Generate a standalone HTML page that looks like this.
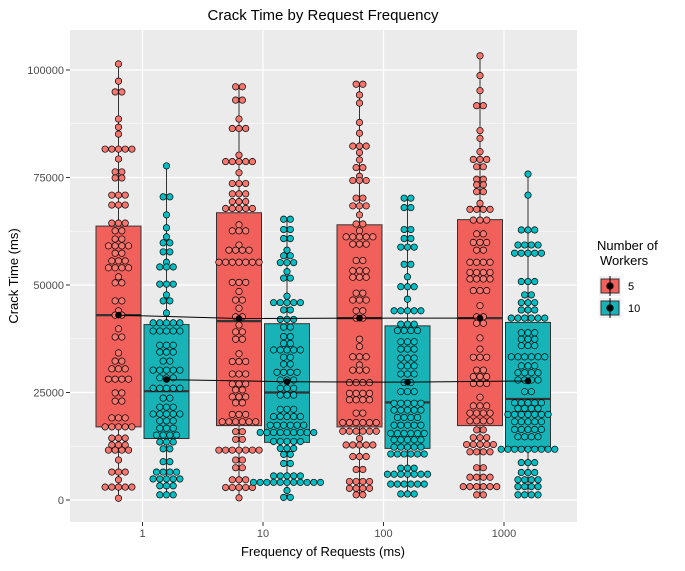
<!DOCTYPE html>
<html><head><meta charset="utf-8"><style>
body{margin:0;background:#fff;font-family:"Liberation Sans",sans-serif}
svg text{font-family:"Liberation Sans",sans-serif}
</style></head><body>
<svg id="chart" width="685" height="566" xmlns="http://www.w3.org/2000/svg"></svg>
<script>
const categories=["1","10","100","1000"];
const groups=["5","10"];
const yTicks=[0,25000,50000,75000,100000];
const yTickLabels=["0","25000","50000","75000","100000"];
const q1_5=[17000,17300,17000,17300], med_5=[43000,41600,42300,42300], q3_5=[63700,66800,64000,65200], lo_5=[400,500,1200,1200], hi_5=[101400,96100,96700,103300];
const q1_10=[14300,13400,12000,12300], med_10=[25300,25000,22700,23500], q3_10=[40800,41000,40500,41300], lo_10=[1200,600,1400,1200], hi_10=[77700,65300,70200,75800];
const mean_5=[43000,42200,42300,42300];
const mean_10=[28000,27500,27400,27700];
// dot rows: [value, count]
const dots_1_5=[[101400,1],[97400,1],[94900,2],[88600,1],[86700,1],[85100,1],[81600,5],[79300,1],[76300,2],[74900,2],[70900,3],[68600,3],[64400,3],[62600,2],[60700,2],[59100,4],[57400,2],[55600,3],[54000,4],[51900,1],[50500,2],[46300,2],[44000,1],[43000,2],[39800,1],[37900,2],[34200,1],[32300,2],[30500,3],[28100,4],[24900,2],[23000,2],[19100,3],[17000,5],[14400,3],[12800,3],[11600,4],[9300,1],[6500,3],[4700,1],[3000,5],[400,1]];
const dots_1_10=[[77700,1],[70500,2],[66300,1],[63300,1],[61200,1],[59800,2],[57700,2],[55300,1],[54200,3],[50200,3],[47700,1],[46300,2],[43500,1],[41200,5],[39300,5],[36000,3],[34400,3],[32300,2],[30200,5],[28400,3],[26000,5],[23700,2],[21600,3],[20000,5],[18400,3],[16700,3],[15100,4],[13500,3],[11900,2],[8900,2],[6500,4],[4900,5],[3300,3],[1200,3]];
const dots_10_5=[[96100,2],[93000,2],[88600,1],[86400,3],[80200,1],[78700,5],[76100,1],[73600,3],[71200,3],[69400,3],[67800,5],[64000,1],[62600,3],[59300,1],[58100,4],[55300,7],[50600,3],[48500,1],[46500,2],[44600,1],[42600,2],[40700,1],[39100,2],[37400,2],[34000,1],[32200,3],[29300,3],[27000,3],[25600,2],[24000,3],[22600,2],[19900,3],[18200,6],[15900,2],[14100,2],[11600,7],[9300,2],[7500,2],[4700,3],[2900,5],[500,1]];
const dots_10_10=[[65300,2],[62900,2],[60800,2],[58100,1],[56800,2],[55200,3],[53100,1],[51600,2],[47400,1],[45900,5],[44200,2],[42000,3],[40200,2],[38000,2],[36400,2],[34900,5],[33200,2],[31600,2],[29700,4],[27900,3],[26000,3],[24400,3],[21100,3],[19400,5],[17400,6],[15700,9],[13600,5],[12000,3],[10600,2],[8500,2],[5600,5],[4100,11],[2200,1],[600,2]];
const dots_100_5=[[96700,2],[94200,1],[92300,1],[87800,1],[85300,1],[82300,3],[80800,1],[79100,1],[77300,2],[75300,1],[74300,3],[70200,2],[68400,3],[66300,1],[64200,2],[62600,1],[61200,5],[59500,3],[55700,2],[53300,3],[51800,3],[48100,2],[46500,3],[44000,2],[42300,2],[37400,1],[35700,1],[33300,3],[31400,1],[30200,3],[27300,4],[24800,4],[23300,4],[20200,2],[18000,6],[16000,6],[14300,1],[12800,5],[10100,3],[7100,2],[4300,4],[2700,4],[1200,2]];
const dots_100_10=[[70200,2],[68000,2],[62900,2],[60800,2],[58800,3],[54800,2],[51900,1],[49600,3],[46700,1],[44000,5],[40900,3],[39400,4],[36800,3],[35100,3],[33000,3],[31200,3],[29300,3],[27300,2],[25200,3],[22500,5],[20900,5],[19200,4],[17400,5],[15500,6],[14000,5],[12300,5],[10700,6],[7400,3],[6000,7],[3700,6],[1400,3]];
const dots_1000_5=[[103300,1],[98700,1],[95200,1],[91700,2],[85900,1],[84100,1],[81000,1],[79200,3],[77500,2],[74600,2],[73300,2],[71700,2],[69000,1],[67600,4],[65100,3],[61900,2],[59900,3],[58100,2],[55300,4],[52900,4],[51400,4],[48700,3],[45200,1],[42600,2],[41100,2],[37700,1],[35100,1],[33200,3],[30200,2],[28700,3],[27100,3],[23900,1],[21900,3],[20200,4],[18400,4],[16300,2],[14500,3],[12900,5],[11200,4],[7500,2],[5300,4],[3100,6],[1200,2]];
const dots_1000_10=[[75800,1],[70900,1],[62800,3],[59300,4],[57400,5],[50800,3],[47700,2],[45900,3],[44200,3],[42300,6],[38900,3],[37400,3],[35900,3],[33300,6],[31200,3],[29600,4],[27900,4],[25200,2],[22600,5],[21300,4],[19900,7],[18200,5],[16400,5],[14700,4],[11800,9],[8700,3],[6400,3],[4700,4],[3100,4],[1200,4]];

const svg=document.getElementById('chart');
const NS='http://www.w3.org/2000/svg';
const P={l:70,r:577,t:30,b:522};
function y(v){return 500-v*0.0043;}
function xc(i){return 142.5+i*120.5;}
function xg(i,g){return xc(i)+(g===0?-24:24);}
function mk(tag,at,parent){const e=document.createElementNS(NS,tag);for(const k in at)e.setAttribute(k,at[k]);(parent||svg).appendChild(e);return e;}
function tx(s,at){const e=mk('text',at);e.textContent=s;return e;}
const colors=["#F8766D","#00BFC4"];
const boxColors=["#F2605B","#17B3B7"];

const bg=mk('rect',{x:P.l,y:P.t,width:P.r-P.l,height:P.b-P.t,fill:'#EBEBEB'});


for(let i=0;i<yTicks.length-1;i++){
  const m=(yTicks[i]+yTicks[i+1])/2;
  const l=mk('line',{x1:P.l,x2:P.r,y1:y(m),y2:y(m),stroke:'#fff','stroke-width':0.6});
  
  
}
yTicks.forEach((v,i)=>{
  const l=mk('line',{x1:P.l,x2:P.r,y1:y(v),y2:y(v),stroke:'#fff','stroke-width':1.2});
  
  
  const t=tx(yTickLabels[i],{x:64,y:y(v)+4,'text-anchor':'end','font-size':'11',fill:'#4D4D4D'});
  
  
  mk('line',{x1:66,x2:70,y1:y(v),y2:y(v),stroke:'#333','stroke-width':1});
});
categories.forEach((c,i)=>{
  const l=mk('line',{x1:xc(i),x2:xc(i),y1:P.t,y2:P.b,stroke:'#fff','stroke-width':1.2});
  
  
  mk('line',{x1:xc(i),x2:xc(i),y1:P.b,y2:P.b+4,stroke:'#333','stroke-width':1});
  const t=tx(c,{x:xc(i),y:537,'text-anchor':'middle','font-size':'11',fill:'#4D4D4D'});
  
  
});
const Q1=[q1_5,q1_10],MED=[med_5,med_10],Q3=[q3_5,q3_10],LO=[lo_5,lo_10],HI=[hi_5,hi_10];
const DOTS=[[dots_1_5,dots_1_10],[dots_10_5,dots_10_10],[dots_100_5,dots_100_10],[dots_1000_5,dots_1000_10]];
categories.forEach((c,i)=>{
  [0,1].forEach(g=>{
    const cx=xg(i,g);
    const w=mk('line',{x1:cx,x2:cx,y1:y(HI[g][i]),y2:y(LO[g][i]),stroke:'#333','stroke-width':1});
    
    
    const b=mk('rect',{x:cx-22.5,y:y(Q3[g][i]),width:45,height:y(Q1[g][i])-y(Q3[g][i]),fill:boxColors[g],stroke:'#333','stroke-width':1});
    
    
    const m=mk('line',{x1:cx-22.5,x2:cx+22.5,y1:y(MED[g][i]),y2:y(MED[g][i]),stroke:'#333','stroke-width':2.2});
    
    
  });
});
const d=6.7;
categories.forEach((c,i)=>{
  [0,1].forEach(g=>{
    const cx=xg(i,g);
    DOTS[i][g].forEach(([v,n])=>{
      for(let k=0;k<n;k++){
        const dx=(k-(n-1)/2)*d;
        const e=mk('circle',{cx:cx+dx,cy:y(v),r:3.2,fill:colors[g],stroke:'#000','stroke-width':0.7});
        
        
      }
    });
  });
});
[mean_5,mean_10].forEach((arr,g)=>{
  const pts=arr.map((v,i)=>xg(i,g)+','+y(v)).join(' ');
  const pl=mk('polyline',{points:pts,fill:'none',stroke:'#000','stroke-width':1});
  
  
  arr.forEach((v,i)=>{
    const p=mk('circle',{cx:xg(i,g),cy:y(v),r:3.3,fill:'#000'});
    
    
  });
});
const title=tx('Crack Time by Request Frequency',{x:323,y:20,'text-anchor':'middle','font-size':'15',fill:'#000'});


const xt=tx('Frequency of Requests (ms)',{x:323,y:556,'text-anchor':'middle','font-size':'13',fill:'#000'});


const yt=tx('Crack Time (ms)',{x:0,y:0,'text-anchor':'middle','font-size':'13',fill:'#000',transform:'translate(18,276) rotate(-90)'});


const lt1=tx('Number of',{x:597,y:250,'font-size':'13',fill:'#000'});


const lt2=tx(' Workers',{x:600,y:265,'font-size':'13',fill:'#000'});


groups.forEach((gname,g)=>{
  const ky=276+g*22;
  const key=mk('rect',{x:599,y:ky,width:22,height:20,fill:'#F2F2F2'});
  
  
  mk('rect',{x:601,y:ky+3,width:18,height:14,fill:boxColors[g],stroke:'#333','stroke-width':1});
  mk('line',{x1:610,x2:610,y1:ky,y2:ky+20,stroke:'#000','stroke-width':1});
  mk('circle',{cx:610,cy:ky+10,r:3.3,fill:colors[g],stroke:'#000','stroke-width':0.7});
  mk('circle',{cx:610,cy:ky+10,r:3,fill:'#000'});
  const lb=tx(gname,{x:628,y:ky+14,'font-size':'11',fill:'#000'});
  
  
});
</script>
</body></html>
